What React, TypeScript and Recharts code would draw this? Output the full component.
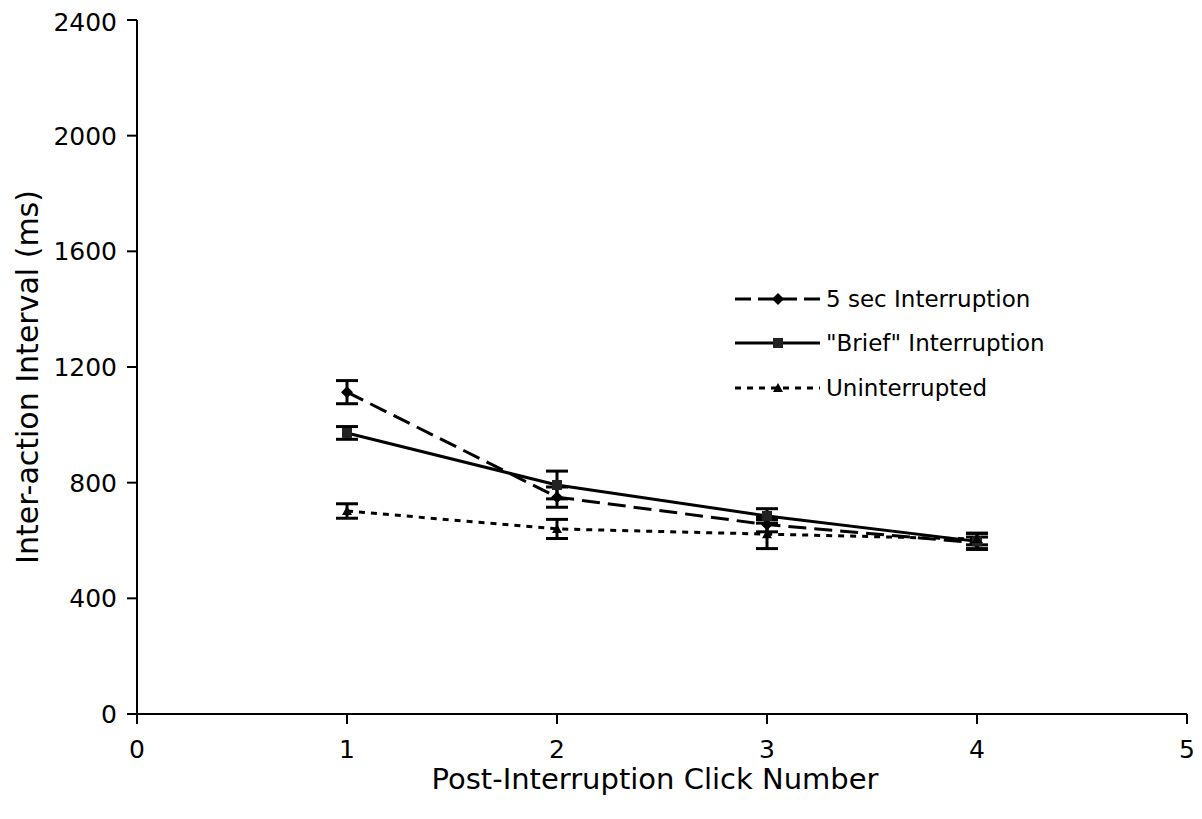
import React from "react";
import { LineChart, Line, XAxis, YAxis, ErrorBar, Customized } from "recharts";

const clicks = [1, 2, 3, 4];
const fiveSec = [1113, 750, 655, 592];
const fiveSecErr = [40, 35, 25, 20];
const brief = [972, 792, 685, 597];
const briefErr = [22, 48, 25, 28];
const uninterrupted = [702, 640, 622, 605];
const uninterruptedErr = [25, 33, 50, 20];
const xTicks = [0, 1, 2, 3, 4, 5];
const yTicks = [0, 400, 800, 1200, 1600, 2000, 2400];
const seriesNames = ["5 sec Interruption", "\"Brief\" Interruption", "Uninterrupted"];
const xTitle = "Post-Interruption Click Number";
const yTitle = "Inter-action Interval (ms)";

const data = clicks.map((c, i) => ({
  x: c,
  five: fiveSec[i],
  fiveErr: fiveSecErr[i],
  brief: brief[i],
  briefErr: briefErr[i],
  unint: uninterrupted[i],
  unintErr: uninterruptedErr[i],
}));

const FONT = "DejaVu Sans, Verdana, sans-serif";

const Diamond = (props: any) => {
  const { cx, cy } = props;
  if (cx == null || cy == null) return null;
  return <path d={`M${cx},${cy - 6} L${cx + 6},${cy} L${cx},${cy + 6} L${cx - 6},${cy} Z`} fill="#000" />;
};
const Square = (props: any) => {
  const { cx, cy } = props;
  if (cx == null || cy == null) return null;
  return <rect x={cx - 5} y={cy - 5} width={10} height={10} fill="#222" />;
};
const Tri = (props: any) => {
  const { cx, cy } = props;
  if (cx == null || cy == null) return null;
  return <path d={`M${cx},${cy - 5} L${cx + 5},${cy + 4} L${cx - 5},${cy + 4} Z`} fill="#000" />;
};

const LegendBox = () => {
  const x0 = 727;
  const x1 = 812;
  const mx = 770;
  const rows = [291, 335, 380];
  return (
    <g>
      <line x1={x0} x2={x1} y1={rows[0]} y2={rows[0]} stroke="#000" strokeWidth={3} strokeDasharray="16 7" />
      <Diamond cx={mx} cy={rows[0]} />
      <line x1={x0} x2={x1} y1={rows[1]} y2={rows[1]} stroke="#000" strokeWidth={3} />
      <Square cx={mx} cy={rows[1]} />
      <line x1={x0} x2={x1} y1={rows[2]} y2={rows[2]} stroke="#000" strokeWidth={3} strokeDasharray="6 6" />
      <Tri cx={mx} cy={rows[2]} />
      {seriesNames.map((n, i) => (
        <text key={n} x={818} y={rows[i]} dominantBaseline="central" fontSize={23} fontFamily={FONT} fill="#000">
          {n}
        </text>
      ))}
    </g>
  );
};

const YTitle = () => (
  <text x={19} y={369} transform="rotate(-90, 19, 369)" textAnchor="middle" dominantBaseline="central" fontSize={30} fontFamily={FONT} fill="#000">
    {yTitle}
  </text>
);
const XTitle = () => (
  <text x={647} y={771} textAnchor="middle" dominantBaseline="central" fontSize={29} fontFamily={FONT} fill="#000">
    {xTitle}
  </text>
);

export default function App() {
  return (
    <div style={{ background: "#fff", width: 1194, height: 811 }}>
      <LineChart width={1194} height={811} data={data} margin={{ top: 12, right: 15, bottom: 0, left: 0 }}>
        <XAxis
          dataKey="x"
          type="number"
          domain={[0, 5]}
          ticks={xTicks}
          tickSize={10}
          tickMargin={16}
          height={105}
          stroke="#000"
          strokeWidth={2}
          tick={{ fill: "#000", fontSize: 25, fontFamily: FONT }}
          label={<XTitle />}
        />
        <YAxis
          type="number"
          domain={[0, 2400]}
          ticks={yTicks}
          tickSize={10}
          tickMargin={10}
          width={129}
          stroke="#000"
          strokeWidth={2}
          tick={{ fill: "#000", fontSize: 25, fontFamily: FONT }}
          label={<YTitle />}
        />
        <Line dataKey="five" stroke="#000" strokeWidth={3} strokeDasharray="18 8" dot={<Diamond />} isAnimationActive={false}>
          <ErrorBar dataKey="fiveErr" width={11} stroke="#000" strokeWidth={3} direction="y" />
        </Line>
        <Line dataKey="brief" stroke="#000" strokeWidth={3} dot={<Square />} isAnimationActive={false}>
          <ErrorBar dataKey="briefErr" width={11} stroke="#000" strokeWidth={3} direction="y" />
        </Line>
        <Line dataKey="unint" stroke="#000" strokeWidth={3} strokeDasharray="6 6" dot={<Tri />} isAnimationActive={false}>
          <ErrorBar dataKey="unintErr" width={11} stroke="#000" strokeWidth={3} direction="y" />
        </Line>
        <Customized component={LegendBox} />
      </LineChart>
    </div>
  );
}
